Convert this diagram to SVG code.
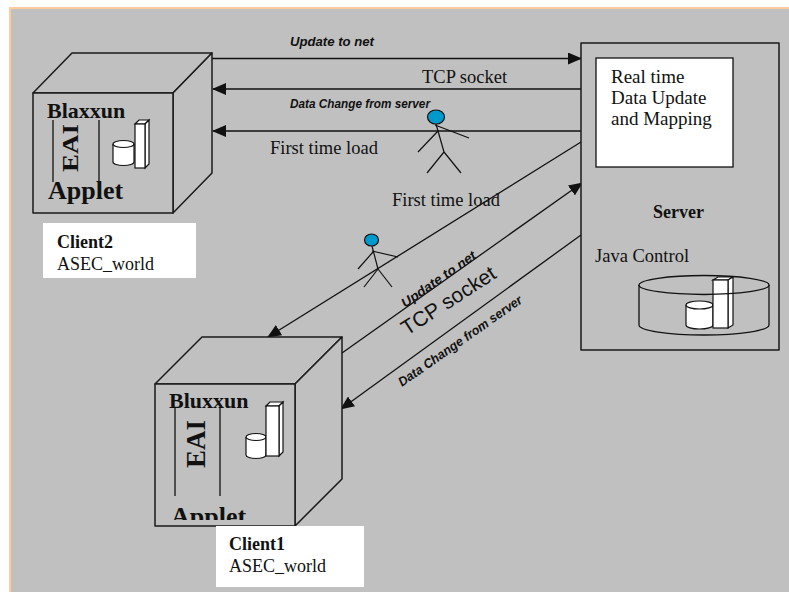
<svg xmlns="http://www.w3.org/2000/svg" width="789" height="592" viewBox="0 0 789 592">
  <style>
    .face { fill: #C0C0C0; stroke: #1a1a1a; stroke-width: 1.5; stroke-linejoin: round; }
    .line { stroke: #111; stroke-width: 1.3; fill: none; }
    .wire { stroke: #111; stroke-width: 1.3; fill: none; marker-end: url(#ah); }
    .plain { stroke: #111; stroke-width: 1.3; fill: none; }
    .icon { fill: #fff; stroke: #111; stroke-width: 1.2; }
    .serif { font-family: "Liberation Serif", "Times New Roman", serif; fill: #111; }
    .bold { font-weight: bold; }
    .tag { font-family: "Liberation Sans", Arial, sans-serif; font-weight: bold; font-style: italic; font-size: 13px; fill: #111; }
    .head { fill: #0099CC; stroke: #111; stroke-width: 1.2; }
    .limb { stroke: #111; stroke-width: 1.2; fill: none; }
  </style>
  <defs>
    <marker id="ah" markerUnits="userSpaceOnUse" markerWidth="14" markerHeight="12" viewBox="0 0 14 12" refX="13" refY="6" orient="auto">
      <path d="M0,0 L14,6 L0,12 z" fill="#111"/>
    </marker>
    <clipPath id="appletClip">
      <rect x="155" y="384" width="140" height="136"/>
    </clipPath>
  </defs>

  <!-- backdrop -->
  <rect x="10" y="8" width="790" height="600" fill="#C0C0C0" stroke="#FFCC99" stroke-width="2"/>

  <!-- connectors -->
  <g id="connectors">
    <line class="wire" x1="212" y1="58.5" x2="581" y2="58.5"/>
    <line class="wire" x1="581" y1="89" x2="213" y2="89"/>
    <line class="wire" x1="581" y1="131" x2="213" y2="131"/>
    <line class="wire" x1="581" y1="142" x2="268" y2="337"/>
    <line class="wire" x1="342" y1="353" x2="582" y2="183"/>
    <line class="wire" x1="581" y1="235" x2="341" y2="409"/>
  </g>

  <!-- connector labels -->
  <g id="labels">
    <text class="tag" x="290" y="46" textLength="84" lengthAdjust="spacingAndGlyphs">Update to net</text>
    <text class="serif" x="422" y="83" font-size="18.5">TCP socket</text>
    <text class="tag" x="290" y="108" textLength="140" lengthAdjust="spacingAndGlyphs">Data Change from server</text>
    <text class="serif" x="270" y="154" font-size="18.5">First time load</text>
    <text class="serif" x="392" y="206" font-size="18.5">First time load</text>
    <text class="tag" transform="translate(405,308) rotate(-35)" font-size="13.5" textLength="88" lengthAdjust="spacingAndGlyphs">Update to net</text>
    <text transform="translate(407,336) rotate(-33)" font-family="Liberation Sans, Arial, sans-serif" font-size="21" fill="#111">TCP socket</text>
    <text class="tag" transform="translate(402,387) rotate(-35)" textLength="148" lengthAdjust="spacingAndGlyphs">Data Change from server</text>
  </g>

  <!-- upper client cube -->
  <g id="client2">
    <polygon class="face" points="33,93 72,53 212,53 173,93"/>
    <polygon class="face" points="173,93 212,53 212,173 173,213"/>
    <rect class="face" x="33" y="93" width="140" height="120"/>
    <text class="serif bold" x="47" y="118" font-size="22">Blaxxun</text>
    <line class="line" x1="53" y1="120" x2="53" y2="182"/>
    <line class="line" x1="99" y1="120" x2="99" y2="182"/>
    <text class="serif bold" transform="translate(78,148) rotate(-90)" text-anchor="middle" font-size="24" textLength="48" lengthAdjust="spacingAndGlyphs">EAI</text>
    <text class="serif bold" x="48" y="199" font-size="26">Applet</text>
    <!-- data icon -->
    <path class="icon" d="M113,144 L113,162 A10.5,3.5 0 0 0 134,162 L134,144"/>
    <ellipse class="icon" cx="123.5" cy="144" rx="10.5" ry="3.5"/>
    <polygon class="icon" points="135,124 139,120 149,120 145,124"/>
    <polygon class="icon" points="145,124 149,120 149,164 145,168"/>
    <rect class="icon" x="135" y="124" width="10" height="44"/>
  </g>
  <g id="client2-label">
    <rect x="43" y="223" width="153" height="55" fill="#fff"/>
    <text class="serif bold" x="57" y="248" font-size="18">Client2</text>
    <text class="serif" x="57" y="270" font-size="18">ASEC_world</text>
  </g>

  <!-- lower client cube -->
  <g id="client1">
    <polygon class="face" points="155,384 202,337 342,337 295,384"/>
    <polygon class="face" points="295,384 342,337 342,479 295,526"/>
    <rect class="face" x="155" y="384" width="140" height="142"/>
    <text class="serif bold" x="169" y="408" font-size="22">Bluxxun</text>
    <line class="line" x1="175" y1="407" x2="175" y2="496"/>
    <line class="line" x1="220" y1="407" x2="220" y2="496"/>
    <text class="serif bold" transform="translate(205,444) rotate(-90)" text-anchor="middle" font-size="28" textLength="48" lengthAdjust="spacingAndGlyphs">EAI</text>
    <text class="serif bold" x="171" y="525" font-size="26" clip-path="url(#appletClip)">Applet</text>
    <!-- data icon -->
    <path class="icon" d="M246,437 L246,455 A10,3.5 0 0 0 266,455 L266,437"/>
    <ellipse class="icon" cx="256" cy="437" rx="10" ry="3.5"/>
    <polygon class="icon" points="266,406 270,402 283,402 279,406"/>
    <polygon class="icon" points="279,406 283,402 283,452 279,456"/>
    <rect class="icon" x="266" y="406" width="13" height="50"/>
  </g>
  <g id="client1-label">
    <rect x="216" y="526" width="148" height="61" fill="#fff"/>
    <text class="serif bold" x="229" y="550" font-size="18">Client1</text>
    <text class="serif" x="229" y="572" font-size="18">ASEC_world</text>
  </g>

  <!-- server -->
  <g id="server">
    <rect class="face" x="581" y="43" width="198" height="307"/>
    <rect x="596" y="58" width="137" height="109" fill="#fff" stroke="#111" stroke-width="1.3"/>
    <text class="serif" font-size="19">
      <tspan x="611" y="83">Real time</tspan>
      <tspan x="611" y="104">Data Update</tspan>
      <tspan x="611" y="125">and Mapping</tspan>
    </text>
    <text class="serif bold" x="653" y="218" font-size="18">Server</text>
    <text class="serif" x="595" y="262" font-size="18.5">Java Control</text>
    <!-- storage drum -->
    <path class="plain" d="M639,285 L639,325 A65,10 0 0 0 769,325 L769,285"/>
    <!-- data icon -->
    <path class="icon" d="M686,305 L686,325 A13.5,4 0 0 0 713,325 L713,305"/>
    <ellipse class="icon" cx="699.5" cy="305" rx="13.5" ry="4"/>
    <polygon class="icon" points="713,280 718,277 733,277 728,280"/>
    <polygon class="icon" points="728,280 733,277 733,325 728,328"/>
    <rect class="icon" x="713" y="280" width="15" height="48"/>
    <ellipse class="plain" cx="704" cy="285" rx="65" ry="9.5"/>
  </g>

  <!-- actors -->
  <g id="actor-top">
    <line class="limb" x1="436" y1="124" x2="444" y2="152"/>
    <line class="limb" x1="435" y1="125" x2="469" y2="138"/>
    <line class="limb" x1="438" y1="131" x2="418" y2="152"/>
    <line class="limb" x1="444" y1="152" x2="427" y2="173"/>
    <line class="limb" x1="444" y1="152" x2="461" y2="173"/>
    <ellipse class="head" cx="436" cy="117" rx="8.5" ry="7"/>
  </g>
  <g id="actor-bottom">
    <line class="limb" x1="372" y1="246" x2="378" y2="269"/>
    <line class="limb" x1="372" y1="251" x2="398" y2="257"/>
    <line class="limb" x1="373" y1="252" x2="358" y2="269"/>
    <line class="limb" x1="378" y1="269" x2="364" y2="287"/>
    <line class="limb" x1="378" y1="269" x2="392" y2="287"/>
    <ellipse class="head" cx="371.5" cy="240" rx="7" ry="6"/>
  </g>
</svg>
